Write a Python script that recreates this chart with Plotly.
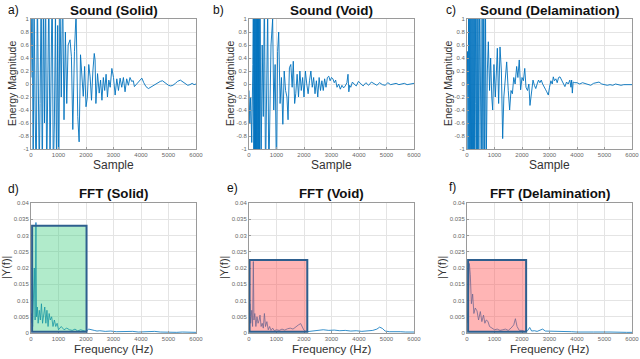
import plotly.graph_objects as go

# ---------------- data ----------------
solid_x = [0, 40, 80, 110, 150, 190, 230, 260, 300, 330,
           370, 410, 450, 490, 530, 570, 610, 650, 690, 730,
           770, 810, 850, 890, 930, 970, 1010, 1050, 1100, 1150,
           1200, 1250, 1300, 1350, 1420, 1470, 1520, 1580, 1640, 1700,
           1750, 1800, 1850, 1900, 1950, 2000, 2050, 2100, 2150, 2200,
           2250, 2300, 2330, 2360, 2420, 2480, 2530, 2580, 2630, 2680,
           2730, 2780, 2830, 2880, 2940, 3000, 3060, 3120, 3180, 3240,
           3300, 3360, 3420, 3480, 3540, 3600, 3660, 3720, 3760, 3820,
           3900, 3960, 4030, 4100, 4180, 4270, 4350, 4430, 4520, 4600,
           4700, 4780, 4860, 4940, 5000, 5080, 5160, 5250, 5330, 5430,
           5520, 5600, 5700, 5780, 5860, 5930, 6000]
solid_y = [0.1, 1.6, -1.5, 1.4, -0.4, -1.6, 1.5, 0.2, -1.4, -0.3,
           1.5, -1.6, 1.3, -0.6, 1.6, -1.5, -0.2, 1.5, -1.3, 0.4,
           1.6, -1.4, -0.6, 1.2, -1.5, 0.9, -1.6, 1.4, -0.2, 1.5,
           -0.55, 0.8, -0.3, 0.6, 0.68, 0.42, -0.7, 0.5, 1.1, -0.5,
           -0.89, 0.45, 0.19, -0.19, 0.27, -0.35, -0.2, 0.3, 0.11, -0.25,
           0.2, 0.47, 0.37, -0.3, 0.16, -0.14, 0.06, -0.25, 0.1, -0.1,
           0.15, -0.2, 0.06, -0.05, 0.24, 0.1, -0.17, 0.08, -0.1, 0.09,
           -0.05, 0.1, -0.12, 0.08, -0.02, 0.1, 0.04, 0.05, -0.04, -0.01,
           0.02, 0.06, 0.09, 0.02, -0.04, -0.07, -0.05, -0.03, 0.0, 0.02,
           0.04, 0.05, 0.02, -0.01, -0.02, -0.03, -0.02, 0.01, 0.04, 0.06,
           0.03, 0.0, -0.02, -0.01, 0.01, -0.01, 0.0]

void_x = [0, 30, 60, 100, 140, 160, 175, 190, 205, 220,
          235, 250, 265, 280, 295, 310, 325, 340, 355, 370,
          385, 400, 440, 480, 520, 560, 600, 640, 680, 720,
          760, 800, 860, 900, 950, 1000, 1040, 1080, 1130, 1180,
          1230, 1280, 1330, 1380, 1420, 1470, 1520, 1570, 1610, 1660,
          1700, 1750, 1800, 1850, 1900, 1950, 2000, 2050, 2100, 2150,
          2200, 2250, 2300, 2350, 2400, 2450, 2500, 2550, 2600, 2650,
          2700, 2750, 2800, 2850, 2900, 2950, 3000, 3050, 3100, 3150,
          3200, 3260, 3320, 3380, 3440, 3500, 3560, 3600, 3630, 3660,
          3700, 3760, 3820, 3900, 3980, 4060, 4150, 4250, 4350, 4450,
          4550, 4650, 4750, 4850, 4950, 5050, 5150, 5250, 5350, 5450,
          5550, 5650, 5750, 5850, 5950, 6000]
void_y = [-0.1, -0.6, -0.2, -0.9, 0.3, 1.6, -1.6, 1.6, -1.6, 1.6,
          -1.6, 1.6, -1.6, 1.6, -1.6, 1.6, -1.6, 1.6, -1.6, 1.6,
          -1.6, 1.5, -1.4, 0.6, -0.5, 1.5, -1.5, 0.2, 1.2, -1.5,
          -0.3, 0.6, 1.0, -0.4, 0.3, -1.5, 0.5, 0.8, -0.3, 0.1,
          -0.62, 0.2, -0.1, -0.2, -0.55, 0.25, 0.3, -0.05, 0.35, -0.3,
          -0.15, 0.15, -0.2, 0.2, -0.1, 0.1, -0.2, 0.2, 0.0, -0.15,
          0.05, 0.2, -0.05, 0.1, -0.15, 0.05, -0.2, 0.1, -0.1, 0.05,
          -0.1, 0.08, -0.05, 0.1, 0.12, 0.05, 0.1, 0.08, 0.02, 0.06,
          -0.05, 0.0, -0.08, -0.02, -0.06, -0.03, 0.02, 0.15, -0.12, -0.02,
          -0.05, 0.03, 0.0, -0.03, 0.04, 0.0, -0.03, 0.02, -0.02, 0.03,
          0.0, -0.02, 0.02, -0.01, -0.02, 0.02, -0.01, 0.0, 0.01, -0.01,
          0.0, 0.01, -0.01, 0.0, 0.01, 0.01]

delam_x = [0, 20, 40, 60, 80, 100, 120, 140, 160, 180,
           200, 220, 240, 260, 280, 300, 320, 340, 360, 380,
           400, 430, 460, 490, 520, 550, 580, 610, 640, 670,
           700, 740, 776, 820, 860, 900, 934, 980, 1030, 1070,
           1103, 1150, 1200, 1250, 1297, 1340, 1390, 1443, 1500, 1550,
           1600, 1650, 1700, 1750, 1806, 1850, 1900, 1950, 2000, 2050,
           2100, 2145, 2200, 2250, 2290, 2350, 2400, 2450, 2500, 2550,
           2600, 2650, 2700, 2750, 2800, 2850, 2900, 2957, 3000, 3050,
           3100, 3138, 3180, 3230, 3280, 3330, 3382, 3440, 3500, 3560,
           3620, 3680, 3740, 3780, 3806, 3830, 3860, 3920, 4000, 4100,
           4200, 4300, 4400, 4500, 4600, 4700, 4800, 4900, 5000, 5100,
           5200, 5300, 5400, 5500, 5600, 5700, 5800, 5900, 6000]
delam_y = [0.0, 0.5, -1.6, 1.6, -1.6, 1.6, -1.6, 1.6, -1.6, 1.6,
           -1.6, 1.6, -1.6, 1.6, -1.6, 1.6, -0.3, -1.6, 1.6, -1.6,
           1.6, -1.6, 1.6, -0.5, -1.6, 1.6, -1.6, 1.6, -1.6, 1.4,
           -1.2, 0.2, 0.65, -0.1, 0.4, -0.2, -0.4, 0.3, -0.2, 0.2,
           0.55, -0.3, 0.57, 0.2, -0.84, -0.2, 0.1, 0.34, -0.1, -0.4,
           -0.1, -0.15, 0.1, 0.0, 0.27, 0.1, 0.37, -0.09, 0.1, 0.05,
           0.24, -0.05, -0.1, 0.0, -0.33, -0.1, 0.06, -0.02, -0.07, 0.0,
           0.06, 0.02, 0.06, 0.0, -0.05, -0.08, -0.12, -0.17, -0.05, 0.05,
           0.0, 0.11, 0.05, 0.08, 0.02, 0.1, 0.11, 0.06, 0.0, -0.04,
           0.03, 0.0, 0.06, -0.05, 0.06, -0.14, 0.03, 0.02, 0.02, 0.0,
           0.02, 0.01, 0.0, -0.02, 0.01, 0.02, 0.03, 0.0, -0.01, -0.02,
           -0.01, -0.02, 0.0, -0.01, -0.02, -0.01, -0.01, 0.0, -0.01]

fft_solid_f = [0, 30, 60, 90, 120, 150, 180, 200, 230, 260,
               300, 340, 380, 420, 460, 500, 540, 580, 620, 660,
               700, 750, 800, 850, 900, 950, 1000, 1100, 1200, 1300,
               1400, 1500, 1600, 1700, 1800, 1900, 2000, 2100, 2200, 2300,
               2400, 2500, 2700, 2900, 3100, 3300, 3500, 3700, 3900, 4100,
               4300, 4500, 4700, 4900, 5100, 5300, 5500, 5700, 5900, 6000]
fft_solid_y = [0.003, 0.006, 0.002, 0.009, 0.02, 0.004, 0.034, 0.005, 0.008, 0.003,
               0.007, 0.004, 0.009, 0.003, 0.006, 0.008, 0.003, 0.007, 0.002, 0.006,
               0.004, 0.005, 0.002, 0.004, 0.002, 0.003, 0.001, 0.002, 0.001, 0.0015,
               0.001, 0.0008, 0.0012, 0.0006, 0.001, 0.0007, 0.0005, 0.0012, 0.0009, 0.0008,
               0.0006, 0.0007, 0.0005, 0.0006, 0.0004, 0.0005, 0.0004, 0.0005, 0.0003, 0.0004,
               0.0003, 0.0005, 0.0003, 0.0002, 0.0003, 0.0002, 0.0003, 0.0002, 0.0002, 0.0002]

fft_void_f = [0, 30, 60, 100, 130, 158, 180, 210, 250, 290,
              330, 370, 400, 440, 480, 520, 560, 600, 650, 700,
              750, 800, 860, 920, 1000, 1100, 1200, 1300, 1400, 1500,
              1600, 1700, 1800, 1880, 1950, 2000, 2100, 2300, 2500, 2700,
              2900, 3100, 3300, 3500, 3700, 3900, 4100, 4300, 4500, 4650,
              4750, 4850, 4950, 5100, 5300, 5500, 5700, 5900, 6000]
fft_void_y = [0.002, 0.009, 0.003, 0.007, 0.002, 0.022, 0.004, 0.006, 0.002, 0.005,
              0.003, 0.004, 0.0055, 0.002, 0.003, 0.0015, 0.006, 0.002, 0.0035, 0.001,
              0.002, 0.0008, 0.0015, 0.0007, 0.001, 0.0008, 0.0012, 0.0009, 0.0013, 0.0015,
              0.0012, 0.002, 0.0025, 0.0029, 0.0018, 0.0008, 0.0004, 0.0006, 0.0007, 0.001,
              0.0008, 0.0009, 0.0007, 0.0008, 0.0006, 0.0007, 0.0005, 0.0006, 0.0008, 0.0012,
              0.0018, 0.0014, 0.0006, 0.0004, 0.0005, 0.0004, 0.0003, 0.0004, 0.0003]

fft_delam_f = [0, 40, 85, 120, 160, 205, 250, 300, 364, 420,
               485, 540, 600, 650, 700, 760, 820, 900, 1000, 1100,
               1200, 1300, 1400, 1500, 1600, 1700, 1760, 1820, 1900, 2000,
               2100, 2200, 2280, 2350, 2450, 2550, 2650, 2750, 2850, 3000,
               3200, 3400, 3600, 3800, 4000, 4200, 4400, 4600, 4800, 5000,
               5200, 5400, 5600, 5800, 6000]
fft_delam_y = [0.003, 0.007, 0.0214, 0.0179, 0.009, 0.012, 0.006, 0.0077, 0.0068, 0.004,
               0.0066, 0.0035, 0.0055, 0.003, 0.004, 0.0036, 0.002, 0.0015, 0.001, 0.0012,
               0.0008, 0.001, 0.0012, 0.0008, 0.0015, 0.0025, 0.0044, 0.002, 0.0008, 0.0008,
               0.0005, 0.0007, 0.0017, 0.0006, 0.0007, 0.0005, 0.0009, 0.0012, 0.0006, 0.0006,
               0.0004, 0.0005, 0.0004, 0.0004, 0.0003, 0.0004, 0.0003, 0.0003, 0.0004, 0.0003,
               0.0003, 0.0002, 0.0003, 0.0002, 0.0002]

top_titles = ["Sound (Solid)", "Sound (Void)", "Sound (Delamination)"]
bottom_titles = ["FFT (Solid)", "FFT (Void)", "FFT (Delamination)"]
top_letters = ["a)", "b)", "c)"]
bottom_letters = ["d)", "e)", "f)"]

x_ticks = [0, 1000, 2000, 3000, 4000, 5000, 6000]
x_tick_text = ["0", "1000", "2000", "3000", "4000", "5000", "6000"]
sound_ticks = [-1, -0.8, -0.6, -0.4, -0.2, 0, 0.2, 0.4, 0.6, 0.8, 1]
sound_tick_text = ["-1", "-0.8", "-0.6", "-0.4", "-0.2", "0", "0.2", "0.4", "0.6", "0.8", "1"]
fft_ticks = [0, 0.005, 0.01, 0.015, 0.02, 0.025, 0.03, 0.035, 0.04]
fft_tick_text = ["0", "0.005", "0.01", "0.015", "0.02", "0.025", "0.03", "0.035", "0.04"]

# highlighted bands: (f_start, f_end, top)
bands = [(40, 2020, 0.033), (20, 2120, 0.0225), (40, 2150, 0.0225)]
band_fill = ["rgba(60,205,125,0.40)", "rgba(255,90,90,0.45)", "rgba(255,90,90,0.45)"]

# ---------------- figure ----------------
W, H = 640, 359
col_px = [(31, 196), (249, 414), (467, 632)]
top_row_px = (19, 149)
bot_row_px = (203, 333)

LINE = "#0072BD"
FONT = "Liberation Sans, Arial, sans-serif"

fig = go.Figure()
layout = dict(width=W, height=H, margin=dict(l=0, r=0, t=0, b=0, autoexpand=False),
              paper_bgcolor="white", plot_bgcolor="white", showlegend=False,
              font=dict(family=FONT))

def ydom(px):
    return [1 - px[1] / H, 1 - px[0] / H]

axis_common = dict(showline=True, mirror=True, linecolor="#9A9A9A", linewidth=1,
                   showgrid=True, gridcolor="#E4E4E4", gridwidth=1, zeroline=False,
                   ticks="inside", ticklen=2, tickcolor="#9A9A9A", automargin=False,
                   tickfont=dict(size=6, color="#666666", family=FONT))

sounds = [(solid_x, solid_y), (void_x, void_y), (delam_x, delam_y)]
ffts = [(fft_solid_f, fft_solid_y), (fft_void_f, fft_void_y), (fft_delam_f, fft_delam_y)]

annotations = []
shapes = []
for c in range(3):
    xl, xr = col_px[c]
    it = c + 1
    ib = c + 4
    for i, rowpx, yr, yt, ytt in [(it, top_row_px, [-1, 1], sound_ticks, sound_tick_text),
                                  (ib, bot_row_px, [0, 0.04], fft_ticks, fft_tick_text)]:
        sx = "" if i == 1 else str(i)
        layout["xaxis" + sx] = dict(axis_common, domain=[xl / W, xr / W], range=[0, 6000],
                                    tickvals=x_ticks, ticktext=x_tick_text, anchor="y" + sx)
        layout["yaxis" + sx] = dict(axis_common, domain=ydom(rowpx), range=yr,
                                    tickvals=yt, ticktext=ytt, anchor="x" + sx)
    sx_t = "" if it == 1 else str(it)
    fig.add_trace(go.Scatter(x=sounds[c][0], y=sounds[c][1], mode="lines",
                             line=dict(color=LINE, width=0.9), xaxis="x" + sx_t, yaxis="y" + sx_t))
    fig.add_trace(go.Scatter(x=ffts[c][0], y=ffts[c][1], mode="lines",
                             line=dict(color=LINE, width=0.8), xaxis="x" + str(ib), yaxis="y" + str(ib)))
    b0, b1, btop = bands[c]
    shapes.append(dict(type="rect", xref="x" + str(ib), yref="y" + str(ib),
                       x0=b0, x1=b1, y0=0.0004, y1=btop, fillcolor=band_fill[c],
                       line=dict(color="#2E5F8E", width=2), layer="above"))
    cx = (xl + xr) / 2 / W
    annotations.append(dict(text="<b>%s</b>" % top_titles[c], x=cx, y=1 - 10 / H, xref="paper", yref="paper",
                            showarrow=False, font=dict(size=13.5, color="#111"), xanchor="center", yanchor="middle"))
    annotations.append(dict(text="<b>%s</b>" % bottom_titles[c], x=cx, y=1 - 193 / H, xref="paper", yref="paper",
                            showarrow=False, font=dict(size=13.3, color="#111"), xanchor="center", yanchor="middle"))
    annotations.append(dict(text="Sample", x=cx, y=1 - 165 / H, xref="paper", yref="paper",
                            showarrow=False, font=dict(size=12, color="#333"), xanchor="center", yanchor="middle"))
    annotations.append(dict(text="Frequency (Hz)", x=cx, y=1 - 349 / H, xref="paper", yref="paper",
                            showarrow=False, font=dict(size=11.5, color="#333"), xanchor="center", yanchor="middle"))
    annotations.append(dict(text="Energy Magnitude", x=(xl - 19) / W, y=1 - 84 / H, xref="paper", yref="paper",
                            textangle=-90, showarrow=False, font=dict(size=10.5, color="#333"),
                            xanchor="center", yanchor="middle"))
    annotations.append(dict(text="|Y(f)|", x=(xl - 25) / W, y=1 - 268 / H, xref="paper", yref="paper",
                            textangle=-90, showarrow=False, font=dict(size=11, color="#333"),
                            xanchor="center", yanchor="middle"))

letter_pos_top = [(13, 10), (218, 10), (451, 10)]
letter_pos_bot = [(13, 189), (232, 188), (452, 187)]
for c in range(3):
    for lbl, (px, py) in [(top_letters[c], letter_pos_top[c]), (bottom_letters[c], letter_pos_bot[c])]:
        annotations.append(dict(text=lbl, x=px / W, y=1 - py / H, xref="paper", yref="paper",
                                showarrow=False, font=dict(size=12, color="#111"),
                                xanchor="center", yanchor="middle"))

layout["annotations"] = annotations
layout["shapes"] = shapes
fig.update_layout(**layout)
fig.write_html("out.html", config={"displayModeBar": False},
               post_script="document.body.style.margin='0';document.body.style.overflow='hidden';")
